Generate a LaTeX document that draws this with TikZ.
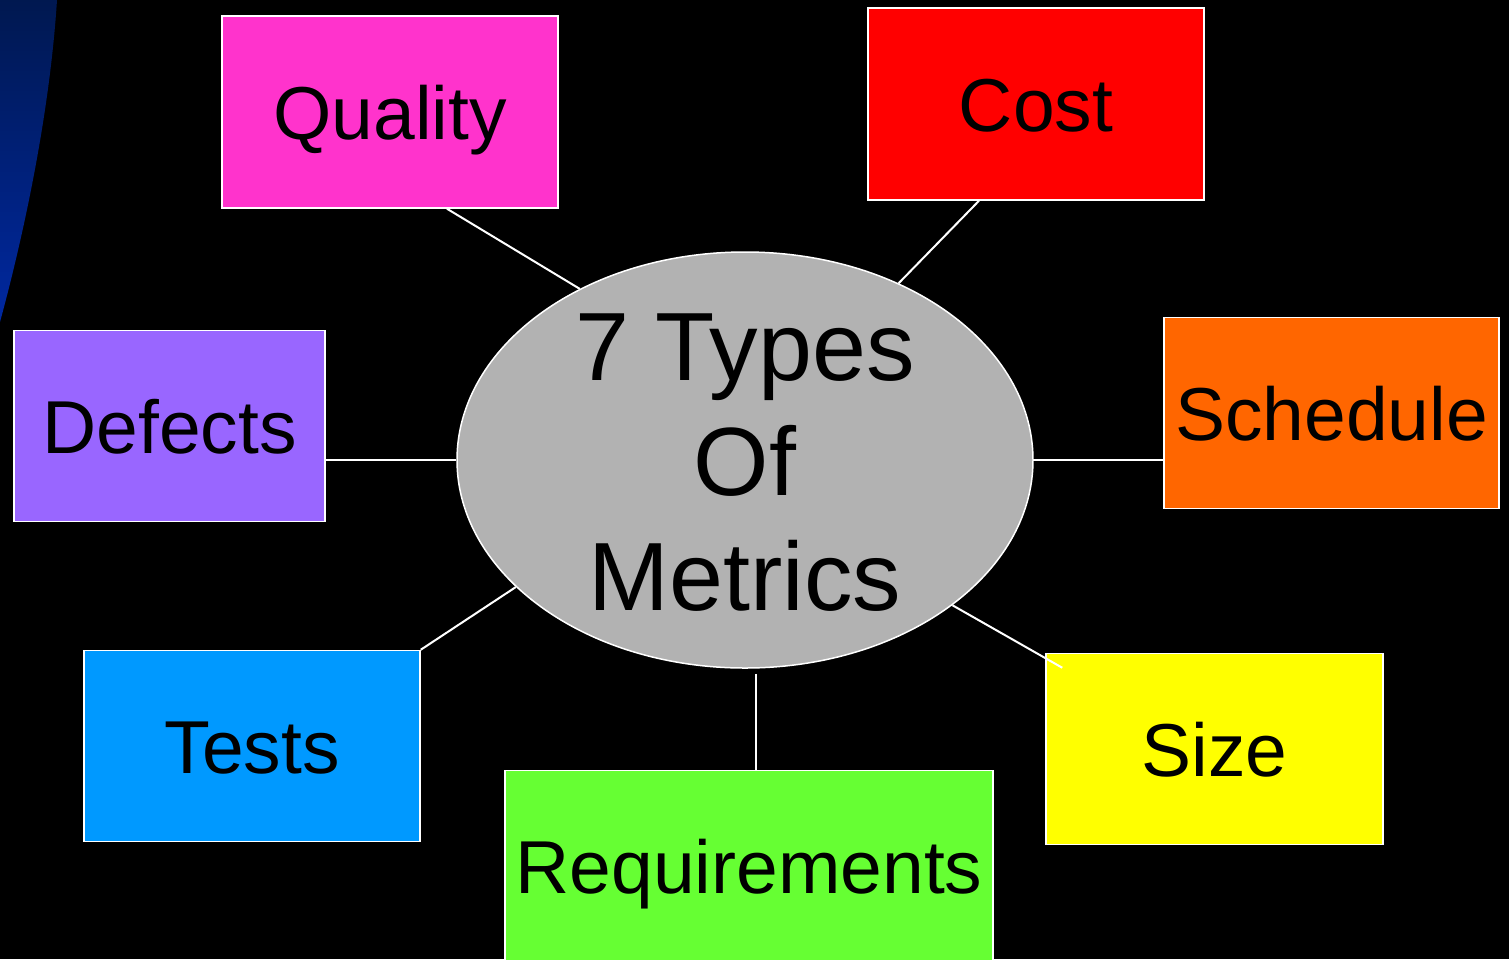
\documentclass[tikz,border=0pt]{standalone}
\usepackage{fontspec}
\setmainfont{Liberation Sans}
\usetikzlibrary{calc,shapes.geometric}
\definecolor{qualityc}{HTML}{FF33CC}
\definecolor{costc}{HTML}{FF0000}
\definecolor{schedc}{HTML}{FF6600}
\definecolor{defectc}{HTML}{9966FF}
\definecolor{testc}{HTML}{0099FF}
\definecolor{reqc}{HTML}{66FF33}
\definecolor{sizec}{HTML}{FFFF00}
\definecolor{hubc}{HTML}{B2B2B2}
\definecolor{navytop}{HTML}{001850}
\definecolor{navybot}{HTML}{0028A0}
\begin{document}
\begin{tikzpicture}[x=1pt,y=-1pt,
  box/.style={draw=white,line width=1.5pt,rectangle,inner sep=0pt,
    minimum width=336pt,minimum height=192pt,
    text height=54pt,text depth=0pt,
    font=\fontsize{75}{90}\selectfont,text=black},
  hub/.style={draw=white,line width=1.5pt,ellipse,inner sep=0pt,
    minimum width=576pt,minimum height=416pt,fill=hubc},
  hubtext/.style={align=center,inner sep=0pt,text=black,
    font=\fontsize{97}{115}\selectfont},
  link/.style={draw=white,line width=2pt}]
\clip (0,0) rectangle (1509,959);
\fill[black] (0,0) rectangle (1509,959);
% decorative corner
\shade[top color=navytop,bottom color=navybot]
  (0,0) -- (57,0) .. controls (50,110) and (25,230) .. (0,322) -- cycle;
% hub
\node[hub] (center) at (745,460) {};
\node[hubtext] (centertext) at (745,463) {7 Types\\Of\\Metrics};
% boxes
\node[box,fill=qualityc] (quality) at (390,112) {Quality};
\node[box,fill=costc] (cost) at (1036,104) {Cost};
\node[box,fill=schedc,minimum width=335pt,minimum height=191pt] (schedule) at (1331.5,413) {Schedule};
\node[box,fill=defectc,minimum width=311pt,minimum height=191pt] (defects) at (169.5,426) {Defects};
\node[box,fill=testc,minimum height=191pt] (tests) at (252,746) {Tests};
\node[box,fill=reqc,minimum width=488pt,minimum height=191pt] (requirements) at (749,866) {Requirements};
\node[box,fill=sizec,minimum width=337pt,minimum height=191pt] (size) at (1214.5,749) {Size};
% connectors
\draw[link] ($(quality.south)+(57,0)$) -- (center.134);
\draw[link] ($(cost.south)+(-57,0)$) -- (center.49);
\draw[link] (center.east) -- (center.east -| schedule.west);
\draw[link] (center.west) -- (center.west -| defects.east);
\draw[link] (tests.north east) -- (center.209);
\draw[link] (center.-35) -- ($(size.north west)+(17,15)$);
\draw[link] ([xshift=11pt,yshift=-5pt]center.south) -- ([xshift=11pt]center.south |- requirements.north);
\end{tikzpicture}
\end{document}
